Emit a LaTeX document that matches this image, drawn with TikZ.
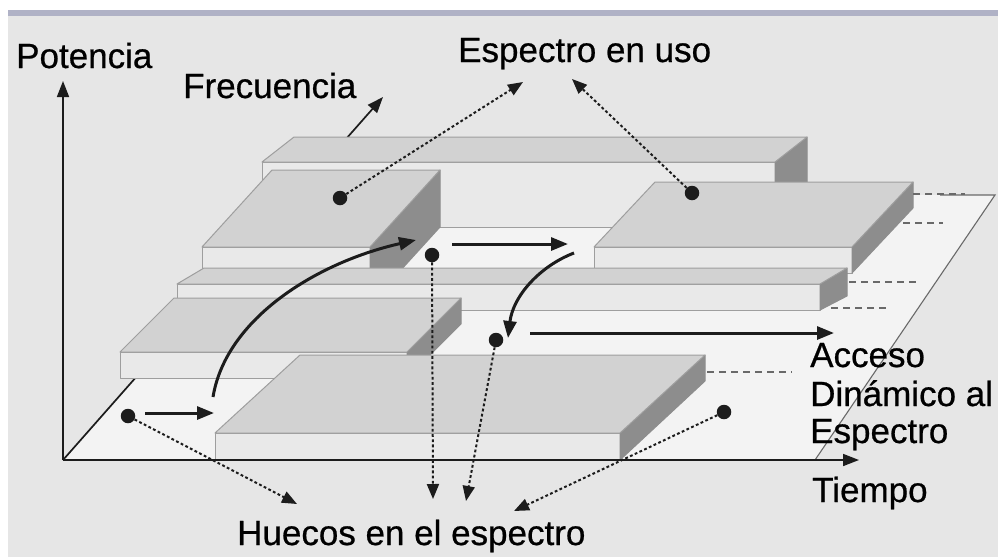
\documentclass[tikz,border=0pt]{standalone}
\usepackage{fontspec}
\setmainfont[FakeBold=0.6]{Liberation Sans}
\newfontfamily\lblfont[FakeBold=0.6]{Liberation Sans}
\usetikzlibrary{arrows.meta}
\definecolor{bgc}{RGB}{230,230,230}
\definecolor{bandc}{RGB}{176,178,198}
\definecolor{floorc}{RGB}{243,243,243}
\definecolor{topc}{RGB}{210,210,210}
\definecolor{frontc}{RGB}{233,233,233}
\definecolor{sidec}{RGB}{141,141,141}
\definecolor{edgec}{RGB}{158,158,158}
\definecolor{ink}{RGB}{28,28,28}
\definecolor{dashc}{RGB}{105,105,105}
\begin{document}
\begin{tikzpicture}[x=1pt,y=-1pt,
  topface/.style={fill=topc,draw=edgec,line width=1pt,line join=round},
  frontface/.style={fill=frontc,draw=edgec,line width=1pt,line join=round},
  sideface/.style={fill=sidec,draw=sidec,line width=1pt,line join=round},
  axisline/.style={draw=ink,line width=1.7pt,-{Triangle[length=16pt,width=12pt]}},
  movearrow/.style={draw=ink,line width=3pt,-{Triangle[length=17pt,width=13pt]}},
  pointer/.style={draw=ink,line width=2pt,dash pattern=on 2.8pt off 2.4pt,-{Triangle[length=15pt,width=12pt]}},
  guide/.style={draw=dashc,line width=2.4pt,dash pattern=on 7pt off 5pt},
  dotmark/.style={circle,fill=ink,inner sep=0pt,minimum size=14.5pt},
  lbl/.style={anchor=base west,inner sep=0pt,text=black,font=\lblfont\fontsize{35}{38}\selectfont}]
\useasboundingbox (0,0) rectangle (998,557);
% background
\fill[white] (0,0) rectangle (998,557);
\fill[bandc] (8,10) rectangle (998,16);
\fill[bgc] (8,16) rectangle (998,557);
% floor
\fill[floorc] (63,460) -- (815,460) -- (995,195) -- (297,195) -- cycle;
\draw[dashc,line width=1.1pt] (815,460) -- (995,195) -- (940,195);
% frequency axis
\coordinate (O) at (63,460);
\coordinate (ftip) at (383,97);
\draw[axisline] (O) -- (ftip);
% block A (back bar)
\filldraw[frontface] (262,162) -- (775,162) -- (775,227) -- (262,227) -- cycle;
\filldraw[sideface] (775,162) -- (807,137) -- (807,202) -- (775,227) -- cycle;
\filldraw[topface] (262,162) -- (775,162) -- (807,137) -- (294,137) -- cycle;
% block B
\filldraw[frontface] (202,247) -- (370,247) -- (370,304) -- (202,304) -- cycle;
\filldraw[sideface] (370,247) -- (440,170) -- (440,227) -- (370,304) -- cycle;
\filldraw[topface] (202,247) -- (370,247) -- (440,170) -- (272,170) -- cycle;
% block C
\filldraw[frontface] (594,247) -- (852,247) -- (852,273) -- (594,273) -- cycle;
\filldraw[sideface] (852,247) -- (913,182) -- (913,208) -- (852,273) -- cycle;
\filldraw[topface] (594,247) -- (852,247) -- (913,182) -- (655,182) -- cycle;
% bar T
\filldraw[frontface] (177,284) -- (820,284) -- (820,310) -- (177,310) -- cycle;
\filldraw[sideface] (820,284) -- (847,268) -- (847,296) -- (820,310) -- cycle;
\filldraw[topface] (177,284) -- (820,284) -- (847,268) -- (204,268) -- cycle;
% block D
\filldraw[frontface] (120,352) -- (407,352) -- (407,378) -- (120,378) -- cycle;
\filldraw[sideface] (407,352) -- (461,298) -- (461,324) -- (407,378) -- cycle;
\filldraw[topface] (120,352) -- (407,352) -- (461,298) -- (174,298) -- cycle;
% block E
\filldraw[frontface] (215,433) -- (620,433) -- (620,460) -- (215,460) -- cycle;
\filldraw[sideface] (620,433) -- (705,355) -- (705,381) -- (620,460) -- cycle;
\filldraw[topface] (215,433) -- (620,433) -- (705,355) -- (300,355) -- cycle;
% guide dashes
\coordinate (g1a) at (913,194); \coordinate (g1b) at (965,194);
\coordinate (g2a) at (903,223); \coordinate (g2b) at (943,223);
\coordinate (g3a) at (849,282); \coordinate (g3b) at (918,282);
\coordinate (g4a) at (831,308); \coordinate (g4b) at (888,308);
\coordinate (g5a) at (707,372); \coordinate (g5b) at (792,372);
\draw[guide] (g1a) -- (g1b);
\draw[guide] (g2a) -- (g2b);
\draw[guide] (g3a) -- (g3b);
\draw[guide] (g4a) -- (g4b);
\draw[guide] (g5a) -- (g5b);
% axes
\coordinate (ptip) at (63,81);
\coordinate (ttip) at (859,460);
\draw[axisline] (O) -- (ptip);
\draw[axisline] (O) -- (ttip);
% dots
\node[dotmark] (d1) at (340,198) {};
\node[dotmark] (d2) at (692,193) {};
\node[dotmark] (d3) at (432,255) {};
\node[dotmark] (d4) at (496,340) {};
\node[dotmark] (d5) at (128,416) {};
\node[dotmark] (d6) at (724,412) {};
% movement arrows
\coordinate (m1a) at (145,413); \coordinate (m1b) at (214,413);
\coordinate (m2a) at (213,397); \coordinate (m2b) at (416,240);
\coordinate (m3a) at (452,244); \coordinate (m3b) at (568,244);
\coordinate (m4a) at (574,253); \coordinate (m4b) at (508,338);
\coordinate (m5a) at (530,333); \coordinate (m5b) at (834,333);
\draw[movearrow] (m1a) -- (m1b);
\draw[movearrow] (m2a) .. controls (226,318) and (318,262) .. (m2b);
\draw[movearrow] (m3a) -- (m3b);
\draw[movearrow] (m4a) .. controls (540,266) and (513,296) .. (m4b);
\draw[movearrow] (m5a) -- (m5b);
% labels
\node[lbl] (pot) at (16,68) {Potencia};
\node[lbl] (freq) at (183,98) {Frecuencia};
\node[lbl] (esp) at (458,62) {Espectro en uso};
\node[lbl] (hue) at (237,545) {Huecos en el espectro};
\node[lbl] (tie) at (812,502) {Tiempo};
\node[lbl] (acc1) at (810,367) {Acceso};
\node[lbl] (acc2) at (810,406) {Dinámico al};
\node[lbl] (acc3) at (810,443) {Espectro};
% pointers
\coordinate (p1) at (523,82);
\coordinate (p2) at (572,79);
\coordinate (p3) at (433,499);
\coordinate (p4) at (466,501);
\coordinate (p5) at (297,504);
\coordinate (p6) at (514,511);
\draw[pointer] (d1) -- (p1);
\draw[pointer] (d2) -- (p2);
\draw[pointer] (d3) -- (p3);
\draw[pointer] (d4) -- (p4);
\draw[pointer] (d5) -- (p5);
\draw[pointer] (d6) -- (p6);
\end{tikzpicture}
\end{document}
